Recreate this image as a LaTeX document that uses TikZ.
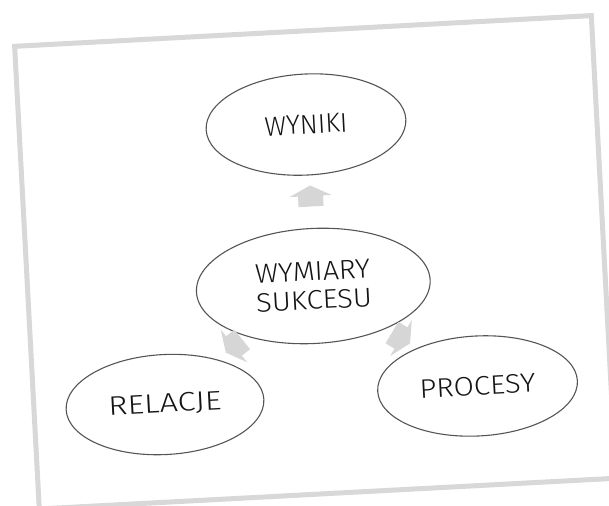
\documentclass[tikz,border=0pt]{standalone}
\usepackage{fontspec}
\newfontfamily\lblfont{Fira Sans Light}
\usetikzlibrary{shapes.geometric}

\definecolor{framegray}{HTML}{D8D8D8}
\definecolor{arrowgray}{HTML}{D6D6D6}
\definecolor{rimgray}{HTML}{555555}
\definecolor{inkgray}{HTML}{141414}

% a word set to a fixed width and cap height
\newcommand{\fitword}[2]{\resizebox{#1pt}{18.6pt}{#2}}

\tikzset{
  bubble/.style={ellipse, draw=rimgray, line width=1.1pt, inner sep=0pt,
    text=inkgray, align=center,
    font=\lblfont\fontsize{27}{28.5}\selectfont},
  blockarrow/.pic={
    \fill[arrowgray] (0,-10.5) -- (21,0) -- (12.5,0) -- (12.5,10.5)
      -- (-12.5,10.5) -- (-12.5,0) -- (-21,0) -- cycle;
  }
}

\begin{document}
\begin{tikzpicture}[x=1pt,y=-1pt]
\useasboundingbox (0,0) rectangle (609,505);
\fill[white] (0,0) rectangle (609,505);
\begin{scope}[rotate around={3.05:(304.5,252.5)}, transform shape]
  % tilted card border
  \draw[framegray, line width=5pt] (26,31.2) rectangle (603.5,494.5);

  % outcome bubbles
  \node[bubble, minimum width=200pt, minimum height=101pt] (wyniki) at (312.8,124.8) {\fitword{83}{WYNIKI}};
  \node[bubble, minimum width=234pt, minimum height=115pt] (sukces) at (311.5,286.4) {\fitword{115}{WYMIARY}\\\fitword{116}{SUKCESU}};
  \node[bubble, minimum width=198pt, minimum height=100pt] (relacje) at (157.1,396.9) {\fitword{113}{RELACJE}};
  \node[bubble, minimum width=200pt, minimum height=100pt] (procesy) at (470.2,395) {\fitword{116}{PROCESY}};

  % block arrows from the centre towards each bubble
  \pic at (313.5,196.4) {blockarrow};
  \pic[rotate=126] at (229.1,342.1) {blockarrow};
  \pic[rotate=-124] at (396.3,343.0) {blockarrow};
\end{scope}
\end{tikzpicture}
\end{document}
